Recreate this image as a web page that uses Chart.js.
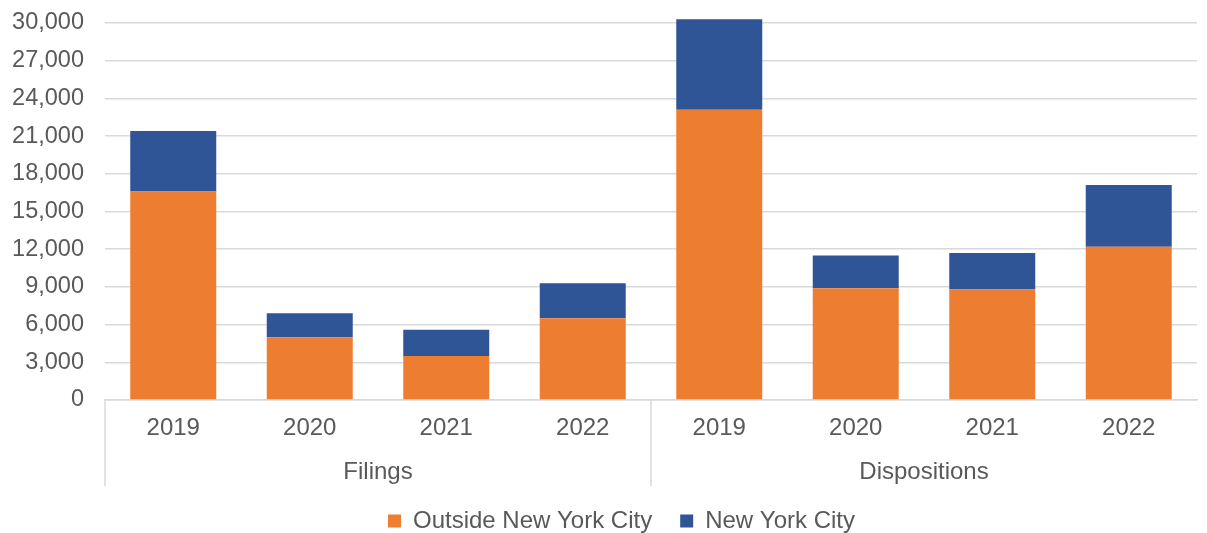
<!DOCTYPE html>
<html>
<head>
<meta charset="utf-8">
<script src="https://cdn.jsdelivr.net/npm/chart.js@4/dist/chart.umd.min.js"></script>
<style>
  html, body { margin: 0; padding: 0; background: #fff; }
  #wrap { width: 1207px; height: 533px; }
</style>
</head>
<body>
<div id="wrap"><canvas id="courtChart"></canvas></div>
<script>
// Values
const years = ['2019', '2020', '2021', '2022', '2019', '2020', '2021', '2022'];
const groups = ['Filings', 'Dispositions'];
const groupSize = 4;
const outsideNYC = [16600, 5000, 3500, 6500, 23100, 8900, 8800, 12200];
const nyc = [4800, 1900, 2100, 2800, 7200, 2600, 2900, 4900];

const textColor = '#595959';
const gridColor = '#d9d9d9';
const fontFamily = '"Liberation Sans", Arial, sans-serif';

// Draws the second level of the category axis (group names and dividers)
const groupAxis = {
    id: 'groupAxis',
    afterLayout(chart) {
        // Excel centres the legend without the trailing padding
        chart.legend.left += 17;
        chart.legend.right += 17;
    },
    afterDraw(chart) {
        const ctx = chart.ctx;
        const x = chart.scales.x;
        const top = chart.chartArea.bottom;
        ctx.save();
        ctx.strokeStyle = gridColor;
        ctx.lineWidth = 1.5;
        for (let g = 0; g < groups.length; g++) {
            const px = Math.round(x.getPixelForValue(g * groupSize - 0.5));
            ctx.beginPath();
            ctx.moveTo(px, top);
            ctx.lineTo(px, top + 86);
            ctx.stroke();
        }
        ctx.fillStyle = textColor;
        ctx.font = '24px ' + fontFamily;
        ctx.textAlign = 'center';
        ctx.textBaseline = 'middle';
        groups.forEach((name, g) => {
            const cx = x.getPixelForValue(g * groupSize + (groupSize - 1) / 2);
            ctx.fillText(name, cx, top + 72);
        });
        ctx.restore();
    }
};

const ctx = document.getElementById('courtChart').getContext('2d');
new Chart(ctx, {
    type: 'bar',
    data: {
        labels: years,
        datasets: [
            {
                label: 'Outside New York City',
                data: outsideNYC,
                backgroundColor: '#ED7D31',
                borderWidth: 0,
                categoryPercentage: 1,
                barPercentage: 0.63,
                clip: false
            },
            {
                label: 'New York City',
                data: nyc,
                backgroundColor: '#2F5597',
                borderWidth: 0,
                categoryPercentage: 1,
                barPercentage: 0.63,
                clip: false
            }
        ]
    },
    options: {
        responsive: true,
        maintainAspectRatio: false,
        animation: false,
        layout: { padding: { left: 12, right: 10, top: 0, bottom: -10 } },
        plugins: {
            legend: {
                position: 'bottom',
                labels: {
                    color: textColor,
                    font: { family: fontFamily, size: 24 },
                    boxWidth: 13,
                    boxHeight: 13,
                    padding: 28
                }
            },
            tooltip: { enabled: false }
        },
        scales: {
            x: {
                stacked: true,
                grid: { display: false },
                border: { display: true, color: gridColor, width: 1.5 },
                ticks: {
                    color: textColor,
                    font: { family: fontFamily, size: 24 },
                    padding: 6,
                    maxRotation: 0
                },
                afterFit: scale => { scale.height = 81; }
            },
            y: {
                stacked: true,
                min: 0,
                max: 30000,
                grid: { color: gridColor, lineWidth: 1.5, drawTicks: false },
                border: { display: false },
                ticks: {
                    stepSize: 3000,
                    color: textColor,
                    font: { family: fontFamily, size: 23.5 },
                    padding: 21,
                    callback: v => v.toLocaleString('en-US')
                },
                afterFit: scale => {
                    scale.width = 93;
                    scale.paddingTop = 23;
                    scale.paddingBottom = 14;
                }
            }
        }
    },
    plugins: [groupAxis]
});
</script>
</body>
</html>
